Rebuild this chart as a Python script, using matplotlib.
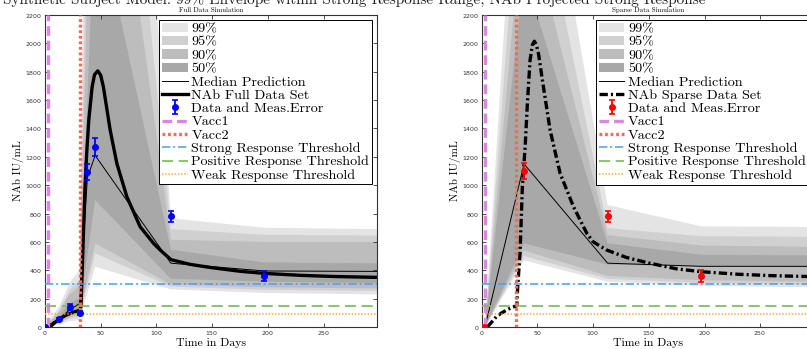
import matplotlib
matplotlib.use("Agg")
import matplotlib.pyplot as plt
from matplotlib.patches import Patch
from matplotlib.lines import Line2D

plt.rcParams["lines.scale_dashes"] = False
plt.rcParams["axes.formatter.use_mathtext"] = True
plt.rcParams["mathtext.fontset"] = "cm"

SERIF = "cmr10"

# ---------------- full data set ----------------
full_days = [0, 13, 22, 31, 38, 45, 113, 197]
full_nab = [0, 55, 140, 100, 1095, 1270, 780, 360]
full_err = [5, 10, 22, 15, 55, 65, 40, 38]

full_median_days = [0, 13, 22, 31, 38, 45, 113, 197, 298]
full_median = [0, 60, 120, 165, 1050, 1210, 450, 395, 392]

full_grid = [0, 13, 22, 31, 45, 113, 197, 298]
full_p99_lo = [0, 20, 40, 50, 425, 265, 240, 230]
full_p99_hi = [0, 150, 310, 400, 8800, 766, 700, 690]
full_p95_lo = [0, 30, 60, 70, 520, 285, 262, 255]
full_p95_hi = [0, 120, 260, 330, 6000, 690, 650, 645]
full_p90_lo = [0, 35, 70, 85, 590, 300, 280, 272]
full_p90_hi = [0, 110, 230, 290, 4500, 615, 600, 600]
full_p50_lo = [0, 45, 100, 110, 895, 340, 320, 310]
full_p50_hi = [0, 80, 170, 200, 3000, 545, 455, 450]

full_fit_days = [4.5, 8, 13.5, 18, 22.5, 27, 31.5, 32.3, 33.9, 35.9, 37.4, 39.3,
                 42.3, 44.5, 47.4, 50, 52.4, 58.5, 64.5, 73.5, 85.4, 97.4, 103.4,
                 113, 130, 150, 175, 197, 230, 260, 298]
full_fit_nab = [0, 25, 60, 80, 96, 108, 118, 143, 519, 989, 1224, 1459,
                1694, 1780, 1806, 1775, 1694, 1388, 1153, 918, 707, 590, 543,
                475, 442, 418, 393, 378, 364, 356, 350]

# ---------------- sparse data set ----------------
sparse_days = [2, 38, 113, 197]
sparse_nab = [0, 1100, 780, 360]
sparse_err = [5, 55, 40, 40]

sparse_grid = [3, 38, 113, 197, 298]
sparse_median = [0, 1150, 450, 428, 428]
sparse_p99_lo = [0, 470, 320, 290, 280]
sparse_p99_hi = [0, 4300, 860, 710, 705]
sparse_p95_lo = [0, 500, 340, 310, 300]
sparse_p95_hi = [0, 3600, 697, 640, 636]
sparse_p90_lo = [0, 540, 360, 330, 320]
sparse_p90_hi = [0, 3000, 648, 575, 565]
sparse_p50_lo = [0, 590, 440, 425, 420]
sparse_p50_hi = [0, 2500, 590, 510, 505]

sparse_fit_days = [5, 9, 13.2, 18, 22.5, 27, 31.5, 32.3, 34.4, 36.5, 39, 41,
                   43.4, 45.5, 47.3, 49, 51, 55.4, 61.4, 70.4, 82.4, 94.4, 100,
                   112, 130, 150, 175, 197, 230, 260, 298]
sparse_fit_nab = [0, 35, 73, 100, 120, 138, 150, 284, 521, 989, 1271, 1577,
                  1881, 1990, 2015, 1990, 1926, 1693, 1388, 1083, 848, 660, 601,
                  543, 490, 451, 410, 390, 372, 362, 355]

vacc1_day = 3
vacc2_day = 31
strong_level = 300
positive_level = 150
weak_level = 90

band_labels = ["99%", "95%", "90%", "50%"]
band_colors = ["#e4e4e4", "#d0d0d0", "#bdbdbd", "#a8a8a8"]

C_VACC1 = "#dc86e4"
C_VACC2 = "#f4685a"
C_STRONG = "#4d9de8"
C_POS = "#80bf5c"
C_WEAK = "#ffa431"

XMAX = 298
YMAX = 2200

W, H = 807, 349
fig = plt.figure(figsize=(W / 100, H / 100), dpi=100)
fig.patch.set_facecolor("white")

fig.text(3 / W, 1 - 3.5 / H,
         "Synthetic Subject Model: 99% Envelope within Strong Response Range, "
         "NAb Projected Strong Response",
         family=SERIF, fontsize=11, ha="left", va="baseline", color="#222222")


def panel(ax, grid, bands, med_days, median, fit_days, fit_nab, fit_style, fit_label,
          days, nab, err, dcolor, title):
    for (lo, hi), col in zip(bands, band_colors):
        ax.fill_between(grid, lo, hi, color=col, lw=0, zorder=1)
    ax.plot(med_days, median, color="black", lw=0.7, zorder=3)
    ax.plot(fit_days, fit_nab, color="black", lw=2.4, zorder=4, **fit_style)
    eb = ax.errorbar(days, nab, yerr=err, fmt="o", color=dcolor, ms=4,
                     elinewidth=1.3, capsize=2, capthick=1.2, zorder=6)
    ax.axvline(vacc1_day, color=C_VACC1, lw=2.4, dashes=(7, 3.5), zorder=5)
    ax.axvline(vacc2_day, color=C_VACC2, lw=2.4, dashes=(2.0, 2.0), zorder=5)
    ax.axhline(strong_level, color=C_STRONG, lw=1.1, dashes=(6, 2, 1.5, 2), zorder=5)
    ax.axhline(positive_level, color=C_POS, lw=1.3, dashes=(8, 4), zorder=5)
    ax.axhline(weak_level, color=C_WEAK, lw=1.1, dashes=(1, 1.3), zorder=5)

    ax.set_xlim(0, XMAX)
    ax.set_ylim(0, YMAX)
    ax.set_xticks(range(0, 300, 50))
    ax.set_yticks(range(0, 2201, 200))
    ax.tick_params(direction="in", length=3, width=0.6, labelsize=4.5,
                   colors="#333333", top=True, right=True, pad=1.5)
    for s in ax.spines.values():
        s.set_linewidth(0.8)
        s.set_color("#333333")
    ax.set_xlabel("Time in Days", family=SERIF, fontsize=8.5, labelpad=0.5)
    ax.set_ylabel("NAb IU/mL", family=SERIF, fontsize=8, labelpad=1)
    ax.set_title(title, family=SERIF, fontsize=5, pad=2)

    handles = [Patch(facecolor=c, edgecolor="none") for c in band_colors]
    handles += [Line2D([], [], color="black", lw=0.7),
                Line2D([], [], color="black", lw=2.4, **fit_style),
                eb,
                Line2D([], [], color=C_VACC1, lw=2.4, dashes=(7, 3.5)),
                Line2D([], [], color=C_VACC2, lw=2.4, dashes=(2.0, 2.0)),
                Line2D([], [], color=C_STRONG, lw=1.1, dashes=(6, 2, 1.5, 2)),
                Line2D([], [], color=C_POS, lw=1.3, dashes=(8, 4)),
                Line2D([], [], color=C_WEAK, lw=1.1, dashes=(1, 1.3))]
    labels = band_labels + ["Median Prediction", fit_label,
                            "Data and Meas.Error", "Vacc1", "Vacc2",
                            "Strong Response Threshold",
                            "Positive Response Threshold",
                            "Weak Response Threshold"]
    leg = ax.legend(handles, labels, loc="upper right",
                    prop={"family": SERIF, "size": 10.2},
                    frameon=True, fancybox=False, edgecolor="black", framealpha=1,
                    handlelength=1.8, handleheight=0.62, handletextpad=0.25,
                    labelspacing=0.05, borderpad=0.2, borderaxespad=0.35)
    leg.get_frame().set_linewidth(0.7)
    leg.set_zorder(10)


ax_w = 332 / W
ax_h = 312 / H
ax_b = 22 / H
ax1 = fig.add_axes([45 / W, ax_b, ax_w, ax_h])
ax2 = fig.add_axes([481.7 / W, ax_b, ax_w, ax_h])

full_bands = [(full_p99_lo, full_p99_hi), (full_p95_lo, full_p95_hi),
              (full_p90_lo, full_p90_hi), (full_p50_lo, full_p50_hi)]
sparse_bands = [(sparse_p99_lo, sparse_p99_hi), (sparse_p95_lo, sparse_p95_hi),
                (sparse_p90_lo, sparse_p90_hi), (sparse_p50_lo, sparse_p50_hi)]

panel(ax1, full_grid, full_bands, full_median_days, full_median,
      full_fit_days, full_fit_nab, {"linestyle": "-"}, "NAb Full Data Set",
      full_days, full_nab, full_err, "#0000ff", "Full Data Simulation")
panel(ax2, sparse_grid, sparse_bands, sparse_grid, sparse_median,
      sparse_fit_days, sparse_fit_nab, {"dashes": (6, 2.2, 1.5, 2.2)},
      "NAb Sparse Data Set",
      sparse_days, sparse_nab, sparse_err, "#ff0000", "Sparse Data Simulation")

fig.savefig("out.png", dpi=100)
